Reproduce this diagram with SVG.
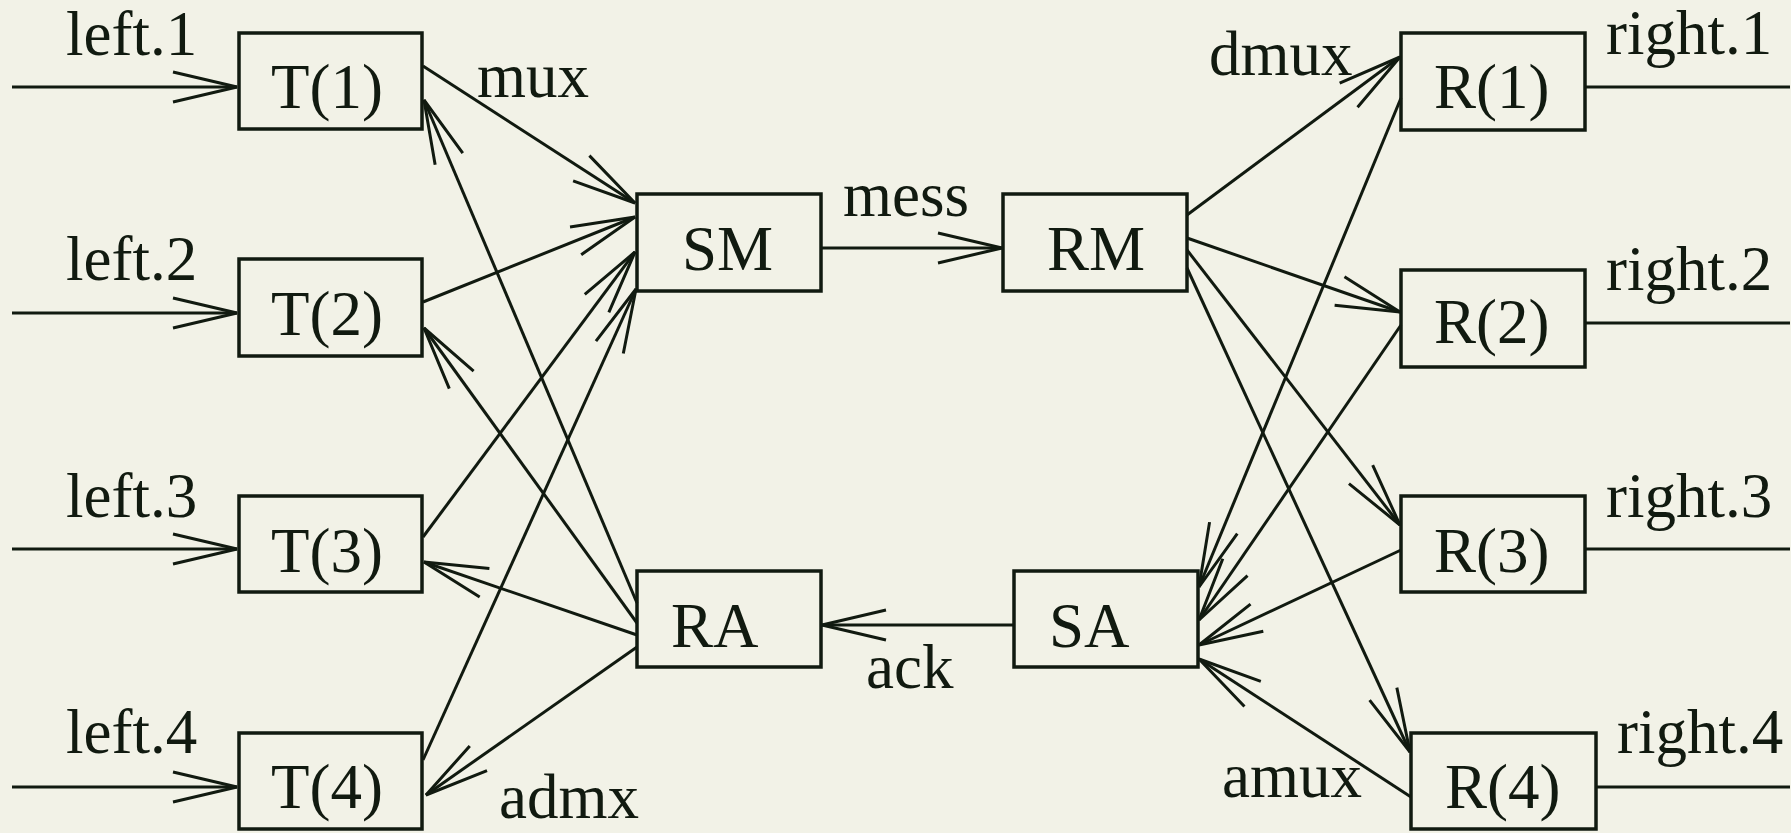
<svg xmlns="http://www.w3.org/2000/svg" width="1791" height="833" viewBox="0 0 1791 833">
<style>
.bg{fill:#f2f2e7}
.box{fill:none;stroke:#111a10;stroke-width:3.5}
.ln{fill:none;stroke:#111a10;stroke-width:3}
.t{font-family:"Liberation Serif","Times New Roman",serif;font-size:63px;fill:#111a10}
</style>
<defs>
<marker id="arr" markerUnits="userSpaceOnUse" orient="auto" markerWidth="80" markerHeight="40" viewBox="-70 -20 80 40" refX="0" refY="0" overflow="visible">
<path d="M-64,-15 L0,0 L-64,15" fill="none" stroke="#111a10" stroke-width="3"/>
</marker>
</defs>
<rect class="bg" x="0" y="0" width="1791" height="833"/>
<g id="connectors">
<line class="ln" x1="12" y1="87" x2="237" y2="87" marker-end="url(#arr)"/>
<line class="ln" x1="12" y1="313" x2="237" y2="313" marker-end="url(#arr)"/>
<line class="ln" x1="12" y1="549" x2="237" y2="549" marker-end="url(#arr)"/>
<line class="ln" x1="12" y1="787" x2="237" y2="787" marker-end="url(#arr)"/>
<line class="ln" x1="1585" y1="87" x2="1790" y2="87"/>
<line class="ln" x1="1585" y1="323" x2="1790" y2="323"/>
<line class="ln" x1="1585" y1="549" x2="1790" y2="549"/>
<line class="ln" x1="1596" y1="787" x2="1790" y2="787"/>
<line class="ln" x1="423" y1="66" x2="635" y2="203" marker-end="url(#arr)"/>
<line class="ln" x1="423" y1="302" x2="635" y2="217" marker-end="url(#arr)"/>
<line class="ln" x1="423" y1="537" x2="635" y2="252" marker-end="url(#arr)"/>
<line class="ln" x1="423" y1="760" x2="636" y2="289" marker-end="url(#arr)"/>
<line class="ln" x1="821" y1="248" x2="1002" y2="248" marker-end="url(#arr)"/>
<line class="ln" x1="1187" y1="215" x2="1400" y2="57" marker-end="url(#arr)"/>
<line class="ln" x1="1187" y1="238" x2="1400" y2="312" marker-end="url(#arr)"/>
<line class="ln" x1="1187" y1="250" x2="1400" y2="525" marker-end="url(#arr)"/>
<line class="ln" x1="1187" y1="268" x2="1410" y2="752" marker-end="url(#arr)"/>
<line class="ln" x1="1401" y1="98" x2="1199" y2="587" marker-end="url(#arr)"/>
<line class="ln" x1="1401" y1="325" x2="1199" y2="620" marker-end="url(#arr)"/>
<line class="ln" x1="1401" y1="550" x2="1199" y2="645" marker-end="url(#arr)"/>
<line class="ln" x1="1411" y1="797" x2="1199" y2="659" marker-end="url(#arr)"/>
<line class="ln" x1="1014" y1="625" x2="822" y2="625" marker-end="url(#arr)"/>
<line class="ln" x1="637" y1="603" x2="424" y2="100" marker-end="url(#arr)"/>
<line class="ln" x1="637" y1="623" x2="424" y2="328" marker-end="url(#arr)"/>
<line class="ln" x1="637" y1="635" x2="424" y2="562" marker-end="url(#arr)"/>
<line class="ln" x1="637" y1="647" x2="426" y2="795" marker-end="url(#arr)"/>
</g>
<g id="labels">
<text class="t" x="66" y="55">left.1</text>
<text class="t" x="66" y="280">left.2</text>
<text class="t" x="66" y="517">left.3</text>
<text class="t" x="66" y="753">left.4</text>
<text class="t" x="1606" y="54">right.1</text>
<text class="t" x="1606" y="290">right.2</text>
<text class="t" x="1606" y="517">right.3</text>
<text class="t" x="1617" y="753">right.4</text>
<text class="t" x="477" y="97">mux</text>
<text class="t" x="843" y="216">mess</text>
<text class="t" x="1209" y="75">dmux</text>
<text class="t" x="866" y="688">ack</text>
<text class="t" x="499" y="818">admx</text>
<text class="t" x="1222" y="797">amux</text>
</g>
<g id="T1"><rect class="box" x="239" y="33" width="183" height="96"/><text class="t" x="271" y="108">T(1)</text></g>
<g id="T2"><rect class="box" x="239" y="259" width="183" height="97"/><text class="t" x="271" y="335">T(2)</text></g>
<g id="T3"><rect class="box" x="239" y="496" width="183" height="96"/><text class="t" x="271" y="572">T(3)</text></g>
<g id="T4"><rect class="box" x="239" y="733" width="183" height="96"/><text class="t" x="271" y="808">T(4)</text></g>
<g id="SM"><rect class="box" x="637" y="194" width="184" height="97"/><text class="t" x="682" y="270">SM</text></g>
<g id="RM"><rect class="box" x="1003" y="194" width="184" height="97"/><text class="t" x="1047" y="270">RM</text></g>
<g id="RA"><rect class="box" x="637" y="571" width="184" height="96"/><text class="t" x="671" y="647">RA</text></g>
<g id="SA"><rect class="box" x="1014" y="571" width="184" height="96"/><text class="t" x="1049" y="647">SA</text></g>
<g id="R1"><rect class="box" x="1401" y="33" width="184" height="97"/><text class="t" x="1434" y="108">R(1)</text></g>
<g id="R2"><rect class="box" x="1401" y="270" width="184" height="97"/><text class="t" x="1434" y="343">R(2)</text></g>
<g id="R3"><rect class="box" x="1401" y="496" width="184" height="96"/><text class="t" x="1434" y="572">R(3)</text></g>
<g id="R4"><rect class="box" x="1411" y="733" width="185" height="96"/><text class="t" x="1445" y="808">R(4)</text></g>
</svg>
